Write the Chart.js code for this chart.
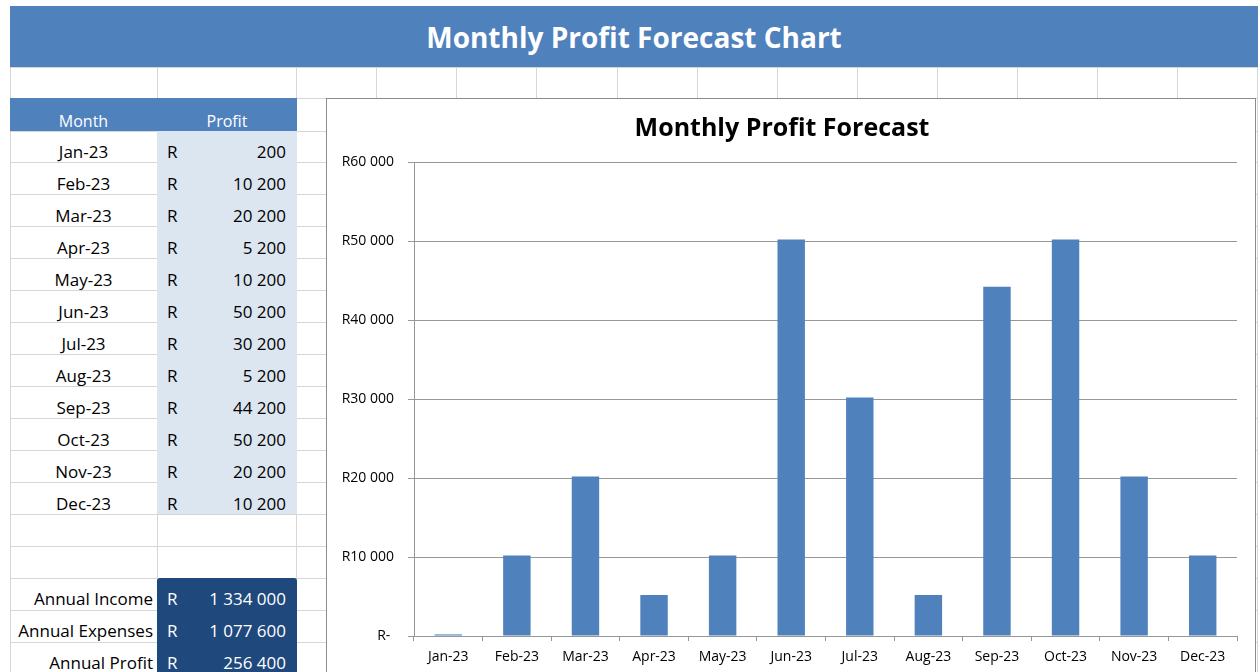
<!DOCTYPE html>
<html lang="en">
<head>
    <meta charset="UTF-8">
    <title>Monthly Profit Forecast Chart</title>
    <script src="https://cdn.jsdelivr.net/npm/chart.js@4.4.0/dist/chart.umd.min.js"></script>
    <style>
        body { margin: 0; width: 1258px; height: 672px; overflow: hidden; background: #fff; position: relative; font-family: "Open Sans", Lato, sans-serif; }
        .abs { position: absolute; }
        .hline { position: absolute; height: 1px; background: #d6d6d6; }
        .vline { position: absolute; width: 1px; background: #d6d6d6; }
        .cell { position: absolute; height: 32px; line-height: 32px; font-size: 17px; color: #000; white-space: nowrap; }
        #banner { left: 10px; top: 6px; width: 1248px; height: 61px; background: #4F81BD; color: #fff; font-weight: bold; font-size: 28px; text-align: center; line-height: 62px; }
        #chartBox { left: 326px; top: 98px; width: 928px; height: 590px; background: #fff; border: 1px solid #8c8c8c; }
    </style>
</head>
<body>
    <div id="sheet"></div>
    <div id="banner" class="abs">Monthly Profit Forecast Chart</div>
    <div id="chartBox" class="abs">
        <div style="position:absolute;left:0;top:0;width:927px;height:573px;">
            <canvas id="profitChart"></canvas>
        </div>
    </div>

    <script>
        // Data
        const months = ['Jan-23', 'Feb-23', 'Mar-23', 'Apr-23', 'May-23', 'Jun-23', 'Jul-23', 'Aug-23', 'Sep-23', 'Oct-23', 'Nov-23', 'Dec-23'];
        const profit = [200, 10200, 20200, 5200, 10200, 50200, 30200, 5200, 44200, 50200, 20200, 10200];
        const summaryLabels = ['Annual Income', 'Annual Expenses', 'Annual Profit'];
        const summaryValues = [1334000, 1077600, 256400];
        const yTickLabels = ['R- ', 'R10 000', 'R20 000', 'R30 000', 'R40 000', 'R50 000', 'R60 000'];

        const fmt = v => String(v).replace(/\B(?=(\d{3})+(?!\d))/g, ' ');

        // Spreadsheet grid
        const sheet = document.getElementById('sheet');
        const rowLines = [67, 98, 131, 162, 194, 226, 258, 290, 322, 354, 386, 418, 450, 482, 514, 546, 578, 610, 642];
        const colLines = [10, 157, 296, 376, 456, 536, 617, 697, 777, 857, 937, 1017, 1097, 1177, 1257];
        function add(cls, style, text) {
            const d = document.createElement('div');
            d.className = cls;
            Object.assign(d.style, style);
            if (text !== undefined) d.textContent = text;
            sheet.appendChild(d);
            return d;
        }
        rowLines.forEach(y => add('hline', { left: '10px', top: y + 'px', width: '1248px' }));
        colLines.forEach(x => add('vline', { left: x + 'px', top: '67px', height: '605px' }));

        // coloured blocks
        add('abs', { left: '10px', top: '98px', width: '287px', height: '33px', background: '#4F81BD' });
        add('abs', { left: '157px', top: '131px', width: '140px', height: '383px', background: '#DCE6F1' });
        add('abs', { left: '157px', top: '578px', width: '140px', height: '100px', background: '#1F497D', borderRadius: '3px 3px 0 0' });

        // header
        add('cell', { left: '10px', top: '105px', width: '147px', textAlign: 'center', color: '#fff', fontSize: '16px' }, 'Month');
        add('cell', { left: '157px', top: '105px', width: '140px', textAlign: 'center', color: '#fff', fontSize: '16px' }, 'Profit');

        // monthly rows
        months.forEach((m, i) => {
            const top = 131 + i * 32 + 5;
            add('cell', { left: '10px', top: top + 'px', width: '147px', textAlign: 'center' }, m);
            add('cell', { left: '167px', top: top + 'px' }, 'R');
            add('cell', { left: '157px', top: top + 'px', width: '129px', textAlign: 'right' }, fmt(profit[i]));
        });

        // summary rows
        summaryLabels.forEach((s, i) => {
            const top = 578 + i * 32 + 5;
            add('cell', { left: '0px', top: top + 'px', width: '153px', textAlign: 'right' }, s);
            add('cell', { left: '167px', top: top + 'px', color: '#fff' }, 'R');
            add('cell', { left: '157px', top: top + 'px', width: '129px', textAlign: 'right', color: '#fff' }, fmt(summaryValues[i]));
        });

        // Chart
        const gridGrey = '#979797';
        const ctx = document.getElementById('profitChart').getContext('2d');
        new Chart(ctx, {
            type: 'bar',
            data: {
                labels: months,
                datasets: [{
                    label: 'Profit',
                    data: profit,
                    backgroundColor: '#4F81BD',
                    barPercentage: 0.4,
                    categoryPercentage: 1.0
                }]
            },
            options: {
                responsive: true,
                maintainAspectRatio: false,
                animation: false,
                layout: { padding: { left: 0, right: 17, top: 0, bottom: 0 } },
                plugins: {
                    legend: { display: false },
                    tooltip: { enabled: false },
                    title: {
                        display: true,
                        text: 'Monthly Profit Forecast',
                        color: '#000',
                        font: { family: 'Open Sans', size: 25, weight: 'bold' },
                        padding: { top: 15, bottom: 18 }
                    }
                },
                scales: {
                    x: {
                        grid: { offset: true, drawOnChartArea: false, drawTicks: true, tickLength: 5, color: gridGrey },
                        border: { display: true, color: gridGrey },
                        ticks: { color: '#000', font: { family: 'Open Sans', size: 14 }, maxRotation: 0, autoSkip: false, padding: 8 },
                        afterFit: scale => { scale.height = 36; }
                    },
                    y: {
                        min: 0,
                        max: 60000,
                        grid: { color: gridGrey, drawTicks: true, tickLength: 6 },
                        border: { display: true, color: gridGrey },
                        ticks: {
                            stepSize: 10000,
                            color: '#000',
                            font: { family: 'Open Sans', size: 14 },
                            padding: 14,
                            callback: (value, index) => yTickLabels[index]
                        },
                        afterFit: scale => { scale.width = 87; }
                    }
                }
            }
        });
    </script>
</body>
</html>
